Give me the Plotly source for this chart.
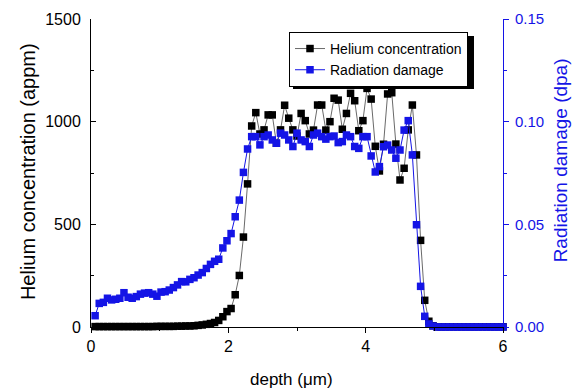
import plotly.graph_objects as go

depth = [0.06, 0.12, 0.18, 0.24, 0.30, 0.36, 0.42, 0.48, 0.54, 0.60,
         0.66, 0.72, 0.78, 0.84, 0.90, 0.96, 1.02, 1.08, 1.14, 1.20,
         1.26, 1.32, 1.38, 1.44, 1.50, 1.56, 1.62, 1.68, 1.74, 1.80,
         1.86, 1.92, 1.98, 2.04, 2.10, 2.16, 2.22, 2.28, 2.34, 2.40,
         2.46, 2.52, 2.58, 2.64, 2.70, 2.76, 2.82, 2.88, 2.94, 3.00,
         3.06, 3.12, 3.18, 3.24, 3.30, 3.36, 3.42, 3.48, 3.54, 3.60,
         3.66, 3.72, 3.78, 3.84, 3.90, 3.96, 4.02, 4.08, 4.14, 4.20,
         4.26, 4.32, 4.38, 4.44, 4.50, 4.56, 4.62, 4.68, 4.74, 4.80,
         4.86, 4.92, 4.98, 5.04, 5.10, 5.16, 5.22, 5.28, 5.34, 5.40,
         5.46, 5.52, 5.58, 5.64, 5.70, 5.76, 5.82, 5.88, 5.94, 6.00]

helium_appm = [2, 2, 2, 2, 2, 2, 2, 2, 2, 2,
               2, 2, 2, 2, 2, 3, 3, 3, 3, 3,
               4, 4, 5, 5, 6, 8, 10, 13, 17, 22,
               32, 50, 75, 90, 157, 251, 438, 697, 979, 1044,
               940, 960, 1033, 1033, 895, 960, 1080, 1017, 960, 930,
               1040, 1005, 940, 959, 1081, 1081, 959, 1000, 1114, 1105,
               963, 1040, 1138, 1102, 956, 1005, 1162, 1110, 880, 760,
               890, 1135, 1141, 891, 716, 773, 960, 1081, 838, 422,
               130, 28, 6, 1, 1, 1, 1, 1, 1, 1,
               1, 1, 1, 1, 1, 1, 1, 1, 1, 1]

damage_dpa = [0.0055, 0.0115, 0.0120, 0.0140, 0.0132, 0.0135, 0.0140, 0.0167, 0.0145, 0.0140,
              0.0148, 0.0160, 0.0165, 0.0167, 0.0160, 0.0150, 0.0170, 0.0172, 0.0180, 0.0192,
              0.0205, 0.0221, 0.0220, 0.0232, 0.0240, 0.0253, 0.0265, 0.0285, 0.0305, 0.0320,
              0.0330, 0.0385, 0.0420, 0.0455, 0.0537, 0.0618, 0.0753, 0.0867, 0.0927, 0.0927,
              0.0887, 0.0927, 0.0935, 0.0911, 0.0895, 0.0944, 0.0935, 0.0911, 0.0879, 0.0944,
              0.0911, 0.0903, 0.0879, 0.0935, 0.0944, 0.0927, 0.0915, 0.0927, 0.0930, 0.0898,
              0.0903, 0.0935, 0.0927, 0.0879, 0.0870, 0.0927, 0.0927, 0.0833, 0.0755, 0.0781,
              0.0878, 0.0886, 0.0862, 0.0822, 0.0862, 0.0959, 0.1005, 0.0838, 0.0498, 0.0198,
              0.0052, 0.0015, 0.0005, 0.0, 0.0, 0.0, 0.0, 0.0, 0.0, 0.0,
              0.0, 0.0, 0.0, 0.0, 0.0, 0.0, 0.0, 0.0, 0.0, 0.0]

x_title = "depth (\u03bcm)"
y_title = "Helium concentration (appm)"
y2_title = "Radiation damage (dpa)"

FONT = "Liberation Sans, Arial, sans-serif"
BLUE = "#1414e6"

fig = go.Figure()
fig.add_trace(go.Scatter(
    x=depth, y=helium_appm, mode="lines+markers", name="Helium concentration",
    line=dict(color="#6a6a6a", width=1),
    marker=dict(symbol="square", size=7.5, color="black"),
    cliponaxis=False, yaxis="y", xaxis="x"))
fig.add_trace(go.Scatter(
    x=depth, y=damage_dpa, mode="lines+markers", name="Radiation damage",
    line=dict(color=BLUE, width=1),
    marker=dict(symbol="square", size=7.5, color=BLUE),
    cliponaxis=False, yaxis="y2", xaxis="x"))

fig.update_layout(
    width=577, height=392,
    margin=dict(l=91, r=74, t=19, b=65),
    paper_bgcolor="white", plot_bgcolor="white",
    font=dict(family=FONT, color="black", size=14),
    showlegend=True,
    xaxis=dict(range=[0, 6], tickvals=[0, 2, 4, 6], ticks="outside", ticklen=5,
               tickcolor="black", showline=True, linecolor="black", linewidth=1,
               showgrid=False, zeroline=False, automargin=False,
               minor=dict(tickvals=[1, 3, 5], ticks="outside", ticklen=3, tickcolor="black"),
               tickfont=dict(size=16)),
    xaxis2=dict(range=[0, 6], overlaying="x", side="top", dtick=1, ticks="inside",
                ticklen=4, tickcolor="black", showticklabels=False, showline=True,
                linecolor="black", linewidth=1, showgrid=False, zeroline=False,
                automargin=False, matches="x"),
    yaxis=dict(range=[0, 1500], tickvals=[0, 500, 1000, 1500], ticks="inside", ticklen=5,
               tickcolor="black", showline=True, linecolor="black", linewidth=1,
               showgrid=False, zeroline=False, automargin=False, ticklabelstandoff=6,
               minor=dict(tickvals=[250, 750, 1250], ticks="inside", ticklen=3, tickcolor="black"),
               tickfont=dict(size=16)),
    yaxis2=dict(range=[0, 0.15], tickvals=[0, 0.05, 0.10, 0.15], tickformat=".2f",
                overlaying="y", side="right", ticks="outside", ticklen=5,
                tickcolor=BLUE, showline=True, linecolor=BLUE, linewidth=1,
                showgrid=False, zeroline=False, automargin=False, ticklabelstandoff=3,
                minor=dict(tickvals=[0.025, 0.075, 0.125], ticks="outside", ticklen=3, tickcolor=BLUE),
                tickfont=dict(size=15, color=BLUE)),
    legend=dict(x=0.4806, y=0.958, xanchor="left", yanchor="top",
                bgcolor="white", bordercolor="black", borderwidth=1,
                font=dict(size=14), tracegroupgap=0, itemwidth=30),
)

fig.add_annotation(text=y_title, textangle=-90, xref="paper", yref="paper",
                   x=-0.153, y=0.506, xanchor="center", yanchor="middle",
                   showarrow=False, font=dict(size=20, color="black"))
fig.add_annotation(text=y2_title, textangle=-90, xref="paper", yref="paper",
                   x=1.14, y=0.54, xanchor="center", yanchor="middle",
                   showarrow=False, font=dict(size=19, color=BLUE))
fig.add_annotation(text=x_title, xref="paper", yref="paper",
                   x=0.487, y=-0.172, xanchor="center", yanchor="middle",
                   showarrow=False, font=dict(size=17, color="black"))

# legend drop shadow
fig.add_shape(type="rect", xref="paper", yref="paper",
              x0=0.4903, x1=0.9296, y0=0.7727, y1=0.945,
              fillcolor="black", line=dict(width=0), layer="above")

fig.write_html("out.html", config={"displayModeBar": False},
               post_script="document.body.style.margin='0';document.body.style.padding='0';")
